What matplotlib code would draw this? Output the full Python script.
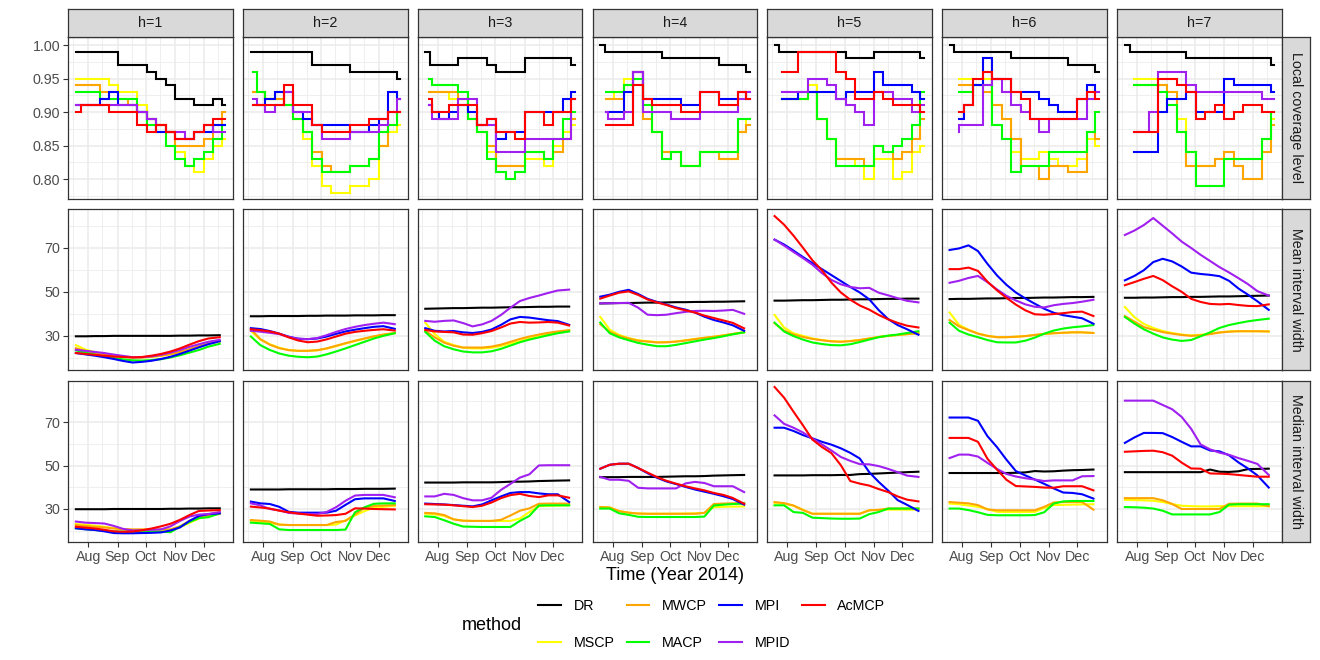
import numpy as np
import matplotlib
matplotlib.use("Agg")
import matplotlib.pyplot as plt
import matplotlib.dates as mdates
from matplotlib.lines import Line2D

plt.rcParams['font.family'] = ['Liberation Sans', 'DejaVu Sans']

methods = ["DR", "MSCP", "MWCP", "MACP", "MPI", "MPID", "AcMCP"]
colors = ["#000000", "#FFFF00", "#FFA500", "#00FF00", "#0000FF", "#A020F0", "#FF0000"]
horizons = ["h=1", "h=2", "h=3", "h=4", "h=5", "h=6", "h=7"]
row_labels = ["Local coverage level", "Mean interval width", "Median interval width"]

cov_dates = np.array(["2014-07-19", "2014-07-29", "2014-08-08", "2014-08-18", "2014-08-28",
                      "2014-09-07", "2014-09-17", "2014-09-27", "2014-10-07", "2014-10-17",
                      "2014-10-27", "2014-11-06", "2014-11-16", "2014-11-26", "2014-12-06",
                      "2014-12-16", "2014-12-24"], dtype="datetime64[D]")
width_dates = np.array(["2014-07-19", "2014-07-29", "2014-08-08", "2014-08-18", "2014-08-28",
                        "2014-09-07", "2014-09-17", "2014-09-27", "2014-10-07", "2014-10-17",
                        "2014-10-27", "2014-11-06", "2014-11-16", "2014-11-26", "2014-12-06",
                        "2014-12-18"], dtype="datetime64[D]")

# ---- local coverage level (one list per horizon) ----
cov_dr = [
    [.99, .99, .99, .99, .99, .97, .97, .97, .96, .95, .94, .92, .92, .91, .91, .92, .91],
    [.99, .99, .99, .99, .99, .99, .99, .97, .97, .97, .97, .96, .96, .96, .96, .96, .95],
    [.99, .97, .97, .97, .98, .98, .98, .97, .96, .96, .96, .98, .98, .98, .98, .98, .97],
    [1.0, .99, .99, .99, .99, .99, .99, .98, .98, .98, .98, .98, .98, .97, .97, .97, .96],
    [1.0, .99, .99, .99, .99, .99, .99, .99, .98, .98, .98, .99, .99, .99, .99, .99, .98],
    [1.0, .99, .99, .99, .99, .99, .99, .98, .98, .98, .98, .98, .98, .97, .97, .97, .96],
    [1.0, .99, .99, .99, .99, .99, .99, .98, .98, .98, .98, .98, .98, .98, .98, .98, .97],
]
cov_mscp = [
    [.95, .95, .95, .95, .94, .93, .93, .91, .89, .88, .87, .84, .82, .81, .83, .85, .86],
    [.93, .93, .92, .92, .91, .89, .86, .82, .79, .78, .78, .79, .79, .80, .85, .87, .88],
    [.93, .93, .93, .92, .92, .89, .87, .84, .82, .82, .82, .83, .83, .82, .85, .87, .88],
    [.92, .92, .93, .95, .96, .90, .87, .84, .84, .82, .82, .84, .84, .83, .83, .87, .89],
    [.92, .92, .92, .92, .94, .89, .86, .83, .83, .82, .80, .83, .83, .80, .81, .84, .85],
    [.95, .95, .95, .95, .95, .91, .89, .84, .83, .83, .84, .83, .82, .82, .83, .86, .85],
    [.95, .95, .95, .95, .94, .92, .89, .84, .82, .82, .83, .83, .83, .83, .83, .86, .89],
]
cov_mwcp = [
    [.94, .94, .94, .93, .93, .92, .91, .90, .89, .88, .87, .85, .85, .85, .86, .88, .90],
    [.93, .93, .92, .92, .91, .89, .87, .84, .82, .81, .81, .82, .82, .83, .85, .88, .90],
    [.93, .93, .93, .93, .92, .89, .87, .85, .82, .82, .82, .84, .84, .83, .84, .86, .89],
    [.92, .92, .92, .94, .96, .89, .87, .84, .84, .82, .82, .84, .84, .83, .83, .87, .88],
    [.92, .92, .92, .92, .93, .89, .86, .83, .83, .83, .82, .85, .84, .83, .84, .86, .89],
    [.94, .94, .94, .94, .93, .91, .89, .86, .82, .82, .80, .82, .82, .81, .81, .87, .86],
    [.94, .94, .94, .94, .94, .93, .87, .82, .82, .82, .83, .84, .82, .80, .80, .84, .88],
]
cov_macp = [
    [.93, .93, .93, .92, .92, .92, .92, .90, .88, .87, .85, .83, .82, .83, .84, .86, .88],
    [.96, .93, .92, .93, .91, .89, .87, .83, .81, .81, .81, .82, .82, .83, .87, .88, .90],
    [.95, .94, .94, .94, .93, .89, .87, .83, .81, .80, .81, .84, .84, .83, .86, .89, .90],
    [.93, .93, .93, .94, .95, .91, .87, .83, .84, .82, .82, .84, .84, .84, .84, .89, .89],
    [.92, .92, .92, .92, .93, .89, .86, .82, .82, .82, .82, .85, .84, .85, .86, .88, .93],
    [.93, .93, .93, .94, .94, .88, .86, .81, .82, .82, .82, .84, .84, .84, .84, .87, .90],
    [.94, .94, .94, .94, .93, .91, .87, .84, .79, .79, .79, .83, .83, .83, .83, .86, .90],
]
cov_mpi = [
    [.91, .91, .91, .92, .93, .91, .91, .90, .89, .87, .87, .86, .86, .87, .87, .88, .88],
    [.91, .91, .92, .93, .93, .90, .89, .88, .88, .88, .88, .87, .87, .88, .89, .93, .92],
    [.91, .90, .89, .90, .91, .90, .88, .89, .86, .87, .87, .90, .90, .90, .90, .92, .93],
    [.90, .90, .90, .93, .96, .92, .92, .92, .92, .91, .91, .93, .93, .92, .92, .93, .92],
    [.92, .92, .92, .93, .93, .93, .93, .92, .93, .93, .93, .96, .94, .94, .94, .93, .92],
    [.89, .89, .91, .94, .98, .95, .95, .93, .93, .93, .92, .91, .90, .90, .92, .94, .93],
    [.84, .84, .84, .84, .90, .92, .92, .93, .90, .90, .90, .95, .94, .94, .94, .94, .93],
]
cov_mpid = [
    [.91, .91, .91, .91, .91, .91, .91, .90, .89, .88, .87, .87, .86, .87, .88, .87, .87],
    [.92, .91, .90, .91, .93, .90, .90, .88, .86, .86, .86, .87, .87, .87, .88, .90, .92],
    [.91, .89, .89, .89, .92, .92, .88, .88, .84, .84, .84, .86, .86, .86, .86, .86, .92],
    [.90, .89, .89, .90, .96, .90, .90, .90, .89, .89, .89, .90, .90, .90, .90, .92, .93],
    [.93, .93, .93, .93, .95, .95, .94, .92, .91, .90, .88, .93, .93, .92, .92, .90, .91],
    [.87, .88, .88, .88, .94, .95, .93, .91, .90, .89, .87, .89, .89, .89, .89, .92, .93],
    [.87, .87, .87, .90, .96, .96, .96, .94, .93, .93, .93, .93, .93, .93, .93, .92, .92],
]
cov_acmcp = [
    [.90, .91, .91, .91, .90, .90, .90, .88, .87, .88, .87, .86, .86, .87, .88, .89, .89],
    [.91, .91, .91, .91, .94, .91, .91, .88, .87, .87, .87, .88, .88, .89, .89, .90, .90],
    [.92, .90, .90, .91, .91, .91, .88, .89, .87, .87, .86, .90, .90, .88, .90, .90, .92],
    [.88, .88, .88, .88, .94, .92, .91, .91, .91, .90, .90, .93, .93, .91, .91, .93, .92],
    [.96, .96, .96, .99, .99, .99, .99, .96, .95, .92, .92, .93, .92, .91, .91, .91, .90],
    [.90, .90, .91, .95, .96, .95, .95, .93, .92, .89, .89, .89, .89, .89, .92, .93, .92],
    [.87, .87, .87, .87, .95, .95, .94, .93, .89, .90, .91, .89, .90, .91, .91, .90, .90],
]

# ---- mean interval width ----
mean_dr = [
    [29.8, 29.8, 29.9, 29.9, 30.0, 30.0, 30.0, 30.0, 30.0, 30.0, 30.0, 30.1, 30.1, 30.2, 30.2, 30.3],
    [38.9, 38.9, 39.0, 39.0, 39.0, 39.0, 39.1, 39.1, 39.2, 39.2, 39.2, 39.3, 39.3, 39.3, 39.4, 39.4],
    [42.3, 42.4, 42.5, 42.6, 42.6, 42.7, 42.8, 42.8, 42.9, 43.0, 43.0, 43.1, 43.2, 43.2, 43.3, 43.3],
    [44.7, 44.8, 44.9, 44.9, 45.0, 45.1, 45.1, 45.2, 45.3, 45.3, 45.4, 45.4, 45.5, 45.5, 45.6, 45.7],
    [46.0, 46.0, 46.1, 46.2, 46.2, 46.3, 46.4, 46.4, 46.5, 46.6, 46.6, 46.7, 46.8, 46.8, 46.9, 46.9],
    [46.7, 46.8, 46.8, 46.9, 47.0, 47.0, 47.1, 47.2, 47.2, 47.3, 47.4, 47.4, 47.5, 47.6, 47.6, 47.7],
    [47.3, 47.3, 47.4, 47.4, 47.5, 47.6, 47.6, 47.7, 47.7, 47.8, 47.9, 47.9, 48.0, 48.1, 48.2, 48.3],
]
mean_mscp = [
    [25.8, 23.8, 22.6, 21.9, 21.2, 20.6, 20.3, 20.2, 20.4, 20.9, 21.6, 22.6, 23.9, 25.3, 26.6, 27.6],
    [32.3, 28.3, 26.2, 24.6, 23.6, 23.2, 23.2, 23.4, 24.2, 25.3, 26.5, 27.6, 28.7, 29.7, 30.5, 31.2],
    [36.0, 30.8, 27.3, 25.8, 24.6, 24.3, 24.3, 24.6, 25.4, 26.5, 27.6, 28.8, 29.8, 30.8, 31.7, 32.5],
    [38.6, 32.8, 30.4, 29.0, 28.0, 27.6, 27.1, 27.1, 27.4, 28.0, 28.6, 29.1, 29.6, 30.2, 30.8, 31.6],
    [39.5, 33.8, 31.2, 30.0, 28.8, 28.1, 27.6, 27.4, 27.7, 28.1, 28.8, 29.5, 30.0, 30.4, 30.8, 31.2],
    [40.6, 35.0, 32.8, 31.1, 30.0, 29.4, 29.4, 29.6, 29.9, 30.4, 30.9, 31.2, 31.4, 31.6, 31.6, 31.3],
    [43.1, 38.5, 35.4, 33.6, 32.2, 31.3, 30.6, 30.2, 30.5, 31.0, 31.6, 32.0, 32.1, 32.1, 32.1, 32.0],
]
mean_mwcp = [
    [24.4, 23.2, 22.3, 21.7, 21.0, 20.5, 20.2, 20.2, 20.5, 21.0, 21.7, 22.7, 24.0, 25.3, 26.5, 27.4],
    [33.0, 28.5, 26.0, 24.4, 23.5, 23.2, 23.2, 23.5, 24.3, 25.5, 26.7, 27.8, 28.8, 29.8, 30.6, 31.3],
    [32.3, 29.3, 26.9, 25.5, 24.7, 24.7, 24.7, 25.1, 26.0, 27.3, 28.6, 29.7, 30.6, 31.4, 32.0, 32.6],
    [35.3, 31.8, 30.0, 28.8, 27.8, 27.4, 27.0, 27.1, 27.4, 27.9, 28.5, 29.1, 29.6, 30.2, 30.9, 31.7],
    [35.7, 32.4, 30.6, 29.5, 28.6, 28.0, 27.5, 27.3, 27.6, 28.1, 28.8, 29.5, 30.0, 30.4, 30.8, 31.2],
    [37.2, 34.3, 32.6, 31.0, 30.0, 29.4, 29.4, 29.6, 29.9, 30.4, 30.9, 31.2, 31.4, 31.6, 31.6, 31.3],
    [39.0, 36.5, 34.0, 32.8, 31.7, 31.0, 30.4, 30.0, 30.2, 30.8, 31.5, 31.9, 32.1, 32.1, 32.1, 32.0],
]
mean_macp = [
    [23.4, 22.4, 21.5, 20.6, 19.9, 19.3, 18.9, 18.8, 19.0, 19.4, 20.2, 21.2, 22.4, 23.6, 25.1, 26.4],
    [29.7, 25.8, 23.6, 22.0, 21.0, 20.5, 20.3, 20.6, 21.6, 22.9, 24.3, 25.8, 27.3, 28.8, 30.0, 31.2],
    [31.8, 27.8, 25.3, 23.9, 22.9, 22.5, 22.5, 23.0, 24.1, 25.6, 27.1, 28.3, 29.3, 30.3, 31.2, 32.0],
    [36.0, 31.2, 29.3, 28.0, 26.8, 26.0, 25.3, 25.3, 25.9, 26.7, 27.5, 28.3, 29.0, 29.8, 30.7, 31.6],
    [36.0, 32.0, 29.9, 28.3, 27.0, 26.3, 25.8, 25.7, 26.2, 27.2, 28.3, 29.4, 30.1, 30.6, 31.3, 32.1],
    [36.0, 32.3, 30.6, 29.4, 28.1, 27.1, 27.0, 27.0, 27.8, 29.2, 31.0, 32.4, 33.3, 33.9, 34.3, 34.9],
    [38.6, 35.6, 33.0, 31.0, 29.3, 28.3, 27.7, 28.1, 29.8, 31.6, 33.6, 34.9, 35.8, 36.6, 37.2, 37.8],
]
mean_mpi = [
    [22.2, 21.6, 21.0, 20.3, 19.5, 18.6, 17.9, 18.2, 18.7, 19.5, 20.5, 21.8, 23.3, 24.8, 26.2, 27.6],
    [33.5, 33.1, 32.2, 31.0, 29.6, 28.7, 28.5, 28.8, 29.7, 30.9, 32.0, 32.8, 33.5, 34.1, 34.4, 33.2],
    [33.5, 32.3, 32.0, 32.2, 31.6, 31.3, 31.8, 32.9, 35.0, 37.5, 38.6, 38.3, 37.7, 37.1, 36.7, 35.0],
    [47.8, 48.7, 50.0, 50.9, 49.0, 46.8, 45.4, 44.2, 42.9, 41.9, 40.6, 38.7, 37.2, 36.1, 34.8, 32.3],
    [73.7, 71.5, 68.7, 65.8, 63.0, 60.3, 57.6, 54.9, 52.2, 49.7, 46.6, 41.7, 37.6, 34.9, 33.0, 30.5],
    [69.0, 69.7, 71.1, 68.5, 62.7, 57.5, 53.2, 49.7, 47.0, 44.6, 42.3, 40.5, 39.4, 38.7, 38.0, 35.5],
    [55.2, 57.2, 59.8, 63.5, 65.0, 63.8, 61.5, 58.7, 58.1, 57.7, 57.1, 55.0, 51.5, 48.7, 45.7, 41.8],
]
mean_mpid = [
    [23.7, 23.2, 22.7, 22.2, 21.5, 20.9, 20.3, 20.3, 20.7, 21.4, 22.4, 23.6, 25.0, 26.2, 27.3, 28.2],
    [32.3, 31.9, 31.4, 30.8, 29.5, 28.7, 28.5, 29.0, 30.3, 31.8, 33.1, 34.1, 34.9, 35.5, 36.0, 35.3],
    [36.8, 36.4, 36.8, 37.0, 35.8, 34.3, 35.2, 36.8, 39.5, 42.8, 45.8, 47.2, 48.3, 49.5, 50.6, 51.0],
    [44.8, 44.8, 44.9, 45.0, 42.8, 39.6, 39.4, 39.6, 40.3, 40.9, 41.3, 41.4, 41.3, 41.5, 41.8, 40.0],
    [73.7, 71.0, 68.1, 65.3, 62.3, 58.5, 55.4, 53.4, 52.2, 51.6, 51.8, 49.6, 48.4, 47.1, 45.9, 45.2],
    [54.1, 55.0, 56.3, 57.2, 54.4, 51.1, 48.2, 46.1, 44.3, 43.2, 42.9, 43.9, 44.5, 44.9, 45.5, 46.4],
    [75.8, 77.8, 80.3, 83.5, 80.0, 76.5, 72.8, 69.9, 66.8, 64.0, 61.2, 58.8, 56.2, 53.5, 50.3, 48.3],
]
mean_acmcp = [
    [22.2, 21.8, 21.4, 21.0, 20.6, 20.4, 20.2, 20.4, 21.0, 21.8, 22.9, 24.3, 26.0, 27.6, 28.8, 29.4],
    [33.0, 32.6, 32.0, 31.0, 29.3, 27.9, 27.1, 27.4, 28.4, 29.7, 31.0, 31.8, 32.3, 32.7, 33.0, 32.4],
    [32.7, 32.0, 31.8, 31.6, 30.6, 30.5, 31.2, 32.2, 33.8, 35.6, 36.3, 36.0, 36.1, 36.3, 36.0, 34.7],
    [46.9, 48.3, 49.6, 50.2, 48.6, 46.5, 45.2, 44.0, 42.6, 41.6, 40.6, 39.2, 38.1, 37.0, 35.9, 33.4],
    [84.4, 80.5, 75.5, 70.0, 64.3, 59.8, 54.2, 49.7, 46.4, 43.8, 41.9, 39.5, 37.5, 35.9, 34.6, 33.8],
    [60.3, 60.3, 61.0, 59.5, 54.6, 50.7, 47.3, 44.2, 41.6, 39.8, 39.6, 39.9, 40.3, 40.8, 41.0, 39.0],
    [53.0, 54.4, 55.9, 57.2, 55.3, 52.5, 50.0, 46.8, 45.4, 44.5, 44.3, 44.5, 44.0, 43.6, 43.5, 44.3],
]

# ---- median interval width ----
med_dr = [
    [29.9, 29.9, 29.9, 29.9, 30.0, 30.0, 30.0, 30.0, 30.0, 30.0, 30.1, 30.1, 30.2, 30.2, 30.3, 30.3],
    [39.0, 39.0, 39.0, 39.0, 39.1, 39.1, 39.1, 39.1, 39.1, 39.2, 39.2, 39.2, 39.3, 39.3, 39.3, 39.4],
    [42.2, 42.2, 42.2, 42.2, 42.3, 42.3, 42.3, 42.3, 42.4, 42.6, 42.6, 42.7, 42.9, 43.0, 43.1, 43.2],
    [44.7, 44.7, 44.7, 44.8, 44.8, 44.8, 44.8, 44.9, 45.0, 45.1, 45.1, 45.2, 45.4, 45.5, 45.6, 45.7],
    [45.5, 45.5, 45.5, 45.5, 45.6, 45.6, 45.6, 45.7, 45.7, 46.1, 46.2, 46.4, 46.6, 46.8, 47.0, 47.2],
    [46.6, 46.6, 46.6, 46.6, 46.6, 46.6, 46.6, 46.7, 46.9, 47.5, 47.3, 47.4, 47.7, 47.9, 48.0, 48.2],
    [47.0, 47.0, 47.0, 47.0, 47.0, 47.0, 47.0, 47.0, 47.0, 48.2, 47.2, 47.1, 47.4, 48.4, 48.5, 48.6],
]
med_mscp = [
    [23.1, 22.7, 22.3, 21.8, 21.2, 20.6, 20.3, 20.3, 20.3, 20.3, 20.3, 21.6, 23.6, 25.6, 26.8, 28.6],
    [24.6, 24.2, 23.5, 22.8, 22.6, 22.6, 22.6, 22.6, 22.6, 22.8, 24.8, 27.0, 29.0, 30.6, 31.0, 31.4],
    [27.8, 27.5, 26.8, 25.2, 24.6, 24.5, 24.5, 24.5, 24.5, 24.5, 25.6, 28.6, 31.3, 31.5, 31.6, 31.7],
    [30.9, 30.7, 29.0, 28.3, 27.9, 27.8, 27.8, 27.8, 27.8, 27.9, 28.0, 28.2, 30.8, 31.0, 31.1, 31.2],
    [32.8, 32.5, 31.5, 29.6, 27.8, 27.8, 27.8, 27.8, 27.8, 27.8, 29.4, 29.6, 29.7, 29.7, 29.7, 29.7],
    [32.5, 32.2, 31.6, 31.0, 30.0, 28.7, 28.6, 28.6, 28.6, 28.6, 30.5, 31.8, 31.9, 32.0, 32.1, 32.2],
    [34.2, 34.1, 34.0, 33.8, 33.2, 32.3, 31.5, 31.3, 31.2, 31.2, 31.3, 31.3, 31.3, 31.3, 31.3, 31.3],
]
med_mwcp = [
    [22.6, 22.2, 21.8, 21.5, 21.0, 20.7, 20.6, 20.6, 20.6, 20.6, 20.6, 22.0, 24.5, 26.3, 27.0, 27.7],
    [24.9, 24.6, 24.2, 22.8, 22.6, 22.6, 22.6, 22.6, 22.6, 24.0, 24.5, 27.5, 30.5, 31.4, 31.6, 31.8],
    [28.2, 28.0, 27.2, 25.2, 24.6, 24.5, 24.5, 24.5, 25.0, 27.0, 29.2, 30.3, 32.4, 32.5, 32.5, 32.5],
    [30.9, 30.7, 29.0, 28.3, 27.9, 27.8, 27.8, 27.8, 27.8, 27.8, 27.8, 28.2, 32.3, 32.5, 32.6, 32.8],
    [33.2, 32.7, 31.6, 29.5, 27.8, 27.8, 27.8, 27.8, 27.8, 27.8, 29.4, 29.6, 30.2, 30.2, 30.2, 30.2],
    [33.2, 32.9, 32.6, 31.8, 29.8, 29.4, 29.4, 29.4, 29.4, 29.4, 31.0, 33.0, 33.2, 33.2, 33.2, 29.7],
    [35.0, 35.0, 35.0, 35.0, 34.0, 32.3, 30.0, 30.0, 30.0, 30.0, 30.0, 32.4, 32.5, 32.5, 32.5, 31.3],
]
med_macp = [
    [21.1, 20.7, 20.3, 20.0, 19.6, 19.5, 19.5, 19.5, 19.5, 19.5, 19.3, 21.8, 24.0, 25.8, 26.2, 28.0],
    [23.7, 23.4, 23.1, 20.6, 20.3, 20.3, 20.3, 20.3, 20.3, 20.3, 20.5, 28.5, 30.8, 32.4, 32.6, 32.6],
    [26.6, 26.3, 24.8, 23.2, 21.9, 21.8, 21.7, 21.7, 21.7, 21.7, 24.5, 26.8, 31.6, 31.7, 31.7, 31.7],
    [30.2, 30.2, 28.0, 27.3, 26.4, 26.3, 26.3, 26.3, 26.3, 26.3, 26.3, 26.5, 31.6, 32.0, 32.3, 32.5],
    [31.7, 31.7, 28.6, 28.2, 26.0, 25.8, 25.6, 25.5, 25.5, 25.6, 27.6, 28.6, 30.2, 30.2, 30.2, 30.2],
    [30.2, 30.2, 29.5, 28.5, 27.3, 27.1, 27.1, 27.1, 27.1, 27.2, 28.5, 32.5, 33.5, 33.7, 33.7, 33.7],
    [30.9, 30.8, 30.6, 30.2, 29.2, 27.5, 27.5, 27.5, 27.5, 27.5, 28.6, 32.0, 32.2, 32.2, 32.2, 32.2],
]
med_mpi = [
    [21.1, 20.6, 20.3, 19.7, 18.9, 18.8, 18.8, 18.9, 19.0, 19.2, 20.1, 21.5, 24.5, 26.8, 27.6, 28.0],
    [33.4, 32.6, 32.3, 31.0, 28.7, 28.3, 28.3, 28.3, 28.3, 29.2, 31.9, 34.5, 34.9, 34.9, 34.9, 33.7],
    [32.5, 32.3, 32.1, 31.8, 31.5, 31.2, 32.1, 34.0, 35.8, 37.4, 37.8, 37.8, 37.2, 36.8, 36.8, 33.2],
    [48.6, 50.4, 50.9, 50.9, 48.9, 46.5, 44.4, 42.7, 41.5, 40.2, 39.0, 38.0, 37.0, 35.9, 34.6, 32.0],
    [67.5, 67.5, 66.0, 64.1, 62.6, 61.0, 59.7, 58.0, 55.9, 53.3, 47.0, 42.5, 38.5, 34.1, 31.9, 29.1],
    [72.2, 72.2, 72.2, 70.7, 63.6, 58.6, 52.8, 47.5, 45.5, 43.6, 41.6, 39.5, 37.6, 37.4, 36.8, 34.8],
    [60.5, 63.0, 65.1, 65.1, 65.0, 63.2, 61.0, 58.9, 58.9, 57.0, 56.6, 54.8, 51.5, 48.7, 45.5, 39.9],
]
med_mpid = [
    [24.2, 23.7, 23.5, 23.3, 22.2, 20.8, 20.1, 20.2, 20.4, 20.6, 22.0, 24.5, 26.5, 27.4, 27.7, 28.6],
    [32.6, 31.7, 30.0, 29.4, 28.2, 27.9, 27.7, 27.7, 28.6, 30.8, 33.8, 36.2, 36.5, 36.5, 36.5, 35.4],
    [35.8, 35.8, 37.0, 36.5, 35.0, 34.0, 34.0, 35.2, 38.8, 41.6, 44.5, 46.0, 50.1, 50.2, 50.2, 50.2],
    [44.8, 43.5, 43.5, 43.0, 39.8, 39.5, 39.5, 39.5, 39.5, 41.8, 42.5, 42.0, 40.5, 40.5, 40.5, 37.8],
    [73.2, 69.3, 67.5, 65.3, 62.5, 59.8, 57.0, 54.0, 52.2, 50.7, 50.6, 49.8, 48.5, 47.0, 45.4, 44.8],
    [53.5, 55.1, 55.1, 54.2, 51.3, 48.5, 46.2, 45.0, 44.2, 43.6, 42.9, 43.2, 43.2, 43.2, 45.1, 45.2],
    [80.0, 80.0, 80.0, 80.0, 78.0, 76.0, 72.5, 67.0, 59.8, 57.5, 56.0, 55.0, 53.5, 52.2, 50.8, 45.7],
]
med_acmcp = [
    [21.8, 21.4, 21.0, 20.4, 19.7, 19.5, 19.6, 20.2, 21.0, 22.0, 23.2, 25.0, 27.2, 29.1, 29.3, 29.5],
    [31.1, 30.7, 30.2, 29.2, 28.5, 27.9, 27.4, 26.9, 27.0, 27.2, 27.8, 30.3, 30.2, 30.0, 29.9, 29.8],
    [32.2, 32.1, 32.0, 31.7, 31.3, 30.9, 31.5, 33.0, 35.0, 36.4, 37.0, 36.0, 35.5, 36.3, 36.3, 35.2],
    [48.6, 50.4, 50.9, 50.9, 48.9, 46.8, 44.7, 43.0, 41.7, 40.5, 39.5, 38.6, 37.4, 36.5, 35.1, 32.4],
    [86.3, 81.4, 74.9, 68.6, 62.0, 58.6, 55.8, 50.2, 42.9, 41.7, 40.8, 39.2, 37.8, 35.8, 34.3, 33.5],
    [62.8, 62.8, 62.8, 61.0, 53.2, 48.2, 43.5, 40.6, 40.4, 40.2, 39.9, 39.8, 40.5, 40.5, 40.5, 38.6],
    [56.4, 56.6, 56.8, 56.9, 56.2, 54.6, 51.4, 48.7, 48.6, 46.4, 46.3, 46.1, 45.7, 45.3, 44.9, 44.9],
]

coverage = [cov_dr, cov_mscp, cov_mwcp, cov_macp, cov_mpi, cov_mpid, cov_acmcp]
mean_width = [mean_dr, mean_mscp, mean_mwcp, mean_macp, mean_mpi, mean_mpid, mean_acmcp]
median_width = [med_dr, med_mscp, med_mwcp, med_macp, med_mpi, med_mpid, med_acmcp]

# ---- layout (pixels of a 1320x660 canvas) ----
W, H = 1320, 660
col_x = [68.3, 243.3, 417.7, 592.7, 767.0, 942.0, 1117.3]
pw = 164.7
row_y = [(37.3, 198.6), (209.0, 370.0), (380.7, 541.5)]
ylims = [(0.771, 1.0115), (14.5, 87.6), (15.0, 89.2)]
yticks = [[0.80, 0.85, 0.90, 0.95, 1.00], [30, 50, 70], [30, 50, 70]]
yminor = [[0.775, 0.825, 0.875, 0.925, 0.975], [20, 40, 60, 80], [20, 40, 60, 80]]
ytick_labels = [["0.80", "0.85", "0.90", "0.95", "1.00"], ["30", "50", "70"], ["30", "50", "70"]]
month_ticks = np.array(["2014-08-01", "2014-09-01", "2014-10-01", "2014-11-01", "2014-12-01"],
                       dtype="datetime64[D]")
month_minor = np.array(["2014-07-16", "2014-08-16", "2014-09-16", "2014-10-16", "2014-11-16",
                        "2014-12-16"], dtype="datetime64[D]")
xlim = np.array(["2014-07-11", "2015-01-01"], dtype="datetime64[D]")

border = "#333333"
small = 10.3


def rect(x0, y0, x1, y1):
    return [x0 / W, 1 - y1 / H, (x1 - x0) / W, (y1 - y0) / H]


fig = plt.figure(figsize=(13.2, 6.6), dpi=100)

for r in range(3):
    data_row = [coverage, mean_width, median_width][r]
    for c in range(7):
        y0, y1 = row_y[r]
        ax = fig.add_axes(rect(col_x[c], y0, col_x[c] + pw, y1))
        ax.set_facecolor("white")
        for m in range(7):
            vals = data_row[m][c]
            if r == 0:
                x = cov_dates.copy()
                if m > 0:
                    # coloured coverage lines start a little later for longer horizons
                    x[0] = cov_dates[0] + np.timedelta64(min(2 * c, 10), "D")
                ax.plot(x, vals, color=colors[m], lw=1.5, drawstyle="steps-mid",
                        solid_joinstyle="miter")
            else:
                ax.plot(width_dates, vals, color=colors[m], lw=1.5)
        ax.set_xlim(xlim[0], xlim[1])
        ax.set_ylim(*ylims[r])
        ax.set_xticks(month_ticks)
        ax.set_xticks(month_minor, minor=True)
        ax.set_yticks(yticks[r])
        ax.set_yticks(yminor[r], minor=True)
        ax.grid(which="major", color="#EBEBEB", lw=1.1)
        ax.grid(which="minor", color="#EBEBEB", lw=0.55)
        ax.set_axisbelow(True)
        for s in ax.spines.values():
            s.set_color(border)
            s.set_linewidth(0.9)
        ax.tick_params(which="minor", length=0)
        ax.tick_params(which="major", length=3.3, width=0.8, color=border,
                       labelsize=small, labelcolor="#4D4D4D", pad=2.5)
        if r == 2:
            ax.xaxis.set_major_formatter(mdates.DateFormatter("%b"))
        else:
            ax.tick_params(axis="x", which="major", length=0, labelbottom=False)
        if c == 0:
            ax.set_yticklabels(ytick_labels[r])
        else:
            ax.tick_params(axis="y", which="major", length=0, labelleft=False)

        # facet strips
        if r == 0:
            sx = fig.add_axes(rect(col_x[c], 9.3, col_x[c] + pw, 37.3))
            sx.set_facecolor("#D9D9D9")
            sx.set_xticks([])
            sx.set_yticks([])
            for s in sx.spines.values():
                s.set_color(border)
                s.set_linewidth(0.9)
            sx.text(0.5, 0.5, horizons[c], ha="center", va="center",
                    fontsize=small, color="#1A1A1A", transform=sx.transAxes)
        if c == 6:
            sy = fig.add_axes(rect(col_x[c] + pw, y0, 1310, y1))
            sy.set_facecolor("#D9D9D9")
            sy.set_xticks([])
            sy.set_yticks([])
            for s in sy.spines.values():
                s.set_color(border)
                s.set_linewidth(0.9)
            sy.text(0.5, 0.5, row_labels[r], ha="center", va="center", rotation=-90,
                    fontsize=small, color="#1A1A1A", transform=sy.transAxes)

fig.text(675 / W, 1 - 576 / H, "Time (Year 2014)", ha="center", va="center",
         fontsize=13, color="black")

handles = [Line2D([], [], color=col, lw=1.5) for col in colors]
fig.legend(handles, methods, ncol=4, loc="center", bbox_to_anchor=(712 / W, 1 - 624.5 / H),
           frameon=False, fontsize=small, handlelength=1.55, handletextpad=0.9,
           columnspacing=0.87, labelspacing=1.65)
fig.text(462 / W, 1 - 625 / H, "method", ha="left", va="center", fontsize=13, color="black")

fig.savefig("out.png", dpi=100, facecolor="white")
